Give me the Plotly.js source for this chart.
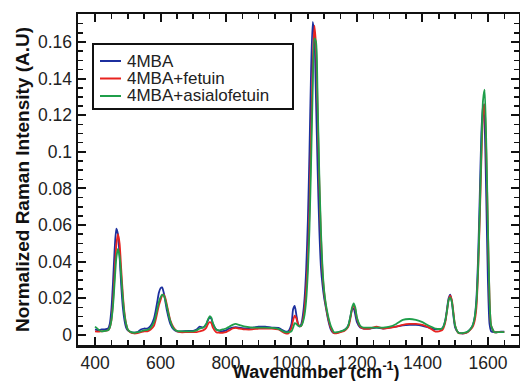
<!DOCTYPE html>
<html>
<head>
<meta charset="utf-8">
<script src="https://cdn.plot.ly/plotly-3.0.1.min.js"></script>
<style>html,body{margin:0;padding:0;background:#fff;}#chart{width:520px;height:381px;}</style>
</head>
<body>
<div id="chart"></div>
<script>
// Wavenumber (cm-1)
const wavenumber = [
  400,410,420,430,440,445,450,455,460,465,
  470,475,480,485,490,495,500,510,520,530,
  540,550,560,570,580,585,590,595,600,605,
  610,615,620,630,640,650,660,680,700,710,
  720,730,740,745,750,755,760,770,780,790,
  800,810,820,830,840,860,880,900,920,940,
  960,980,990,1000,1005,1010,1015,1020,1025,1030,
  1035,1040,1045,1050,1055,1060,1065,1070,1075,1080,
  1085,1090,1095,1100,1105,1110,1115,1120,1125,1130,
  1140,1150,1160,1170,1175,1180,1185,1190,1195,1200,
  1210,1220,1240,1260,1280,1300,1320,1340,1360,1380,
  1400,1420,1440,1460,1465,1470,1475,1480,1485,1490,
  1495,1500,1510,1520,1530,1540,1550,1555,1560,1565,
  1570,1575,1580,1585,1590,1595,1600,1605,1610,1620,
  1630,1640,1650
];
// 4MBA
const mba = [
  0.003,0.0025,0.003,0.003,0.0035,0.006,0.014,0.029,0.047,0.058,
  0.055,0.043,0.027,0.015,0.008,0.004,0.0025,0.0015,0.0012,0.0015,
  0.003,0.0035,0.0035,0.005,0.009,0.013,0.018,0.023,0.0255,0.026,
  0.023,0.018,0.013,0.006,0.003,0.002,0.0018,0.0022,0.0022,0.003,
  0.0045,0.004,0.006,0.008,0.0095,0.009,0.006,0.003,0.0022,0.002,
  0.0025,0.0035,0.004,0.0042,0.004,0.0035,0.004,0.0045,0.0045,0.004,
  0.0038,0.002,0.002,0.006,0.014,0.0158,0.011,0.006,0.0045,0.006,
  0.011,0.02,0.036,0.062,0.1,0.145,0.171,0.163,0.128,0.09,
  0.058,0.037,0.027,0.02,0.015,0.01,0.006,0.003,0.0015,0.001,
  0.0012,0.0018,0.0025,0.004,0.006,0.01,0.0138,0.0145,0.011,0.007,
  0.004,0.0035,0.0035,0.004,0.0035,0.004,0.0045,0.0052,0.0055,0.0055,
  0.005,0.004,0.003,0.0035,0.005,0.008,0.014,0.02,0.022,0.018,
  0.01,0.004,0.0012,0.0008,0.001,0.002,0.004,0.006,0.01,0.02,
  0.042,0.075,0.11,0.126,0.115,0.075,0.03,0.006,0.002,0.0015,
  0.0015,0.0018,0.0018
];
// 4MBA+fetuin
const mbaFetuin = [
  0.002,0.0018,0.002,0.0022,0.0025,0.004,0.008,0.018,0.034,0.049,
  0.055,0.05,0.036,0.022,0.012,0.006,0.003,0.0012,0.0008,0.001,
  0.0015,0.002,0.002,0.003,0.005,0.008,0.012,0.016,0.019,0.0215,
  0.022,0.02,0.016,0.008,0.004,0.002,0.0015,0.0015,0.0015,0.0015,
  0.002,0.0025,0.004,0.006,0.007,0.0065,0.004,0.0015,0.0012,0.0012,
  0.0015,0.0025,0.0035,0.0038,0.0035,0.003,0.003,0.0035,0.0035,0.0035,
  0.003,0.001,0.0008,0.004,0.008,0.0105,0.009,0.006,0.0048,0.005,
  0.008,0.014,0.025,0.04,0.068,0.108,0.148,0.169,0.158,0.122,
  0.083,0.054,0.034,0.023,0.016,0.011,0.007,0.004,0.002,0.001,
  0.001,0.0015,0.002,0.0035,0.005,0.009,0.014,0.0163,0.014,0.009,
  0.0045,0.0035,0.0035,0.0045,0.0035,0.0038,0.0045,0.0055,0.006,0.006,
  0.0055,0.004,0.0018,0.0025,0.004,0.007,0.013,0.019,0.0215,0.019,
  0.012,0.005,0.001,0.0008,0.001,0.0018,0.0035,0.005,0.008,0.015,
  0.034,0.062,0.095,0.12,0.126,0.1,0.058,0.02,0.005,0.0015,
  0.0015,0.0015,0.0015
];
// 4MBA+asialofetuin
const mbaAsialofetuin = [
  0.0045,0.003,0.002,0.0022,0.0025,0.004,0.008,0.016,0.029,0.042,
  0.047,0.043,0.032,0.02,0.011,0.006,0.003,0.0015,0.0012,0.0015,
  0.002,0.0025,0.0028,0.004,0.007,0.01,0.014,0.018,0.0205,0.022,
  0.0215,0.019,0.015,0.0075,0.0035,0.0022,0.002,0.002,0.002,0.0025,
  0.0035,0.004,0.006,0.0085,0.0102,0.0095,0.0065,0.003,0.0025,0.003,
  0.0035,0.0045,0.0055,0.006,0.0055,0.0045,0.004,0.004,0.004,0.0038,
  0.0033,0.0015,0.0015,0.002,0.004,0.0065,0.006,0.005,0.0048,0.005,
  0.007,0.011,0.019,0.034,0.058,0.094,0.135,0.162,0.16,0.128,
  0.088,0.057,0.036,0.024,0.017,0.012,0.008,0.005,0.003,0.0015,
  0.0015,0.002,0.0025,0.004,0.006,0.01,0.015,0.0172,0.015,0.0095,
  0.005,0.004,0.004,0.004,0.004,0.0045,0.006,0.0082,0.0087,0.0082,
  0.007,0.005,0.0035,0.0035,0.005,0.008,0.013,0.019,0.0205,0.018,
  0.011,0.005,0.0012,0.001,0.0012,0.002,0.004,0.006,0.01,0.018,
  0.036,0.066,0.1,0.128,0.134,0.105,0.06,0.02,0.005,0.0015,
  0.0015,0.0015,0.0015
];
const seriesNames = ['4MBA', '4MBA+fetuin', '4MBA+asialofetuin'];
const seriesColors = ['#1c2f9e', '#e8231f', '#1f9e4a'];
const seriesValues = [mba, mbaFetuin, mbaAsialofetuin];

const traces = seriesValues.map((vals, i) => ({
  type: 'scatter', mode: 'lines',
  x: wavenumber, y: vals, name: seriesNames[i], showlegend: false,
  line: {color: seriesColors[i], width: 1.8, shape: 'spline', smoothing: 0.6}
}));

const font = 'Liberation Sans, Arial, sans-serif';
const W = 520, H = 381;
const M = {l: 78, r: 1, t: 14, b: 36};
const PW = W - M.l - M.r, PH = H - M.t - M.b;
const px2x = p => (p - M.l) / PW;
const py2y = p => 1 - (p - M.t) / PH;

// legend drawn as a boxed key in paper coordinates
const legendBox = {x0: 93, x1: 293, y0: 44, y1: 109};
const legendRows = [61, 78.5, 96];
const shapes = [{
  type: 'rect', xref: 'paper', yref: 'paper',
  x0: px2x(legendBox.x0), x1: px2x(legendBox.x1), y0: py2y(legendBox.y1), y1: py2y(legendBox.y0),
  line: {color: '#111', width: 2}, fillcolor: '#fff', layer: 'above'
}];
const annotations = [];
seriesNames.forEach((name, i) => {
  shapes.push({
    type: 'line', xref: 'paper', yref: 'paper',
    x0: px2x(100), x1: px2x(121), y0: py2y(legendRows[i]), y1: py2y(legendRows[i]),
    line: {color: seriesColors[i], width: 2}, layer: 'above'
  });
  annotations.push({
    text: name, xref: 'paper', yref: 'paper', x: px2x(125), y: py2y(legendRows[i]),
    xanchor: 'left', yanchor: 'middle', showarrow: false,
    font: {family: font, size: 17, color: '#222'}
  });
});
annotations.push({
  text: '<b>Wavenumber (cm<sup>-1</sup>)</b>',
  xref: 'paper', yref: 'paper', x: px2x(316), y: 0, xanchor: 'center', yanchor: 'middle',
  yshift: -25, showarrow: false,
  font: {family: font, size: 18, color: '#111'}
});

const axisCommon = {
  showline: true, linecolor: '#111', linewidth: 2.5, mirror: 'ticks',
  ticks: 'inside', ticklen: 8, tickwidth: 2, tickcolor: '#111',
  showgrid: false, zeroline: false,
  tickfont: {family: font, size: 17.5, color: '#222'}
};
const layout = {
  width: W, height: H,
  margin: M,
  paper_bgcolor: '#fff', plot_bgcolor: '#fff',
  showlegend: false,
  xaxis: Object.assign({}, axisCommon, {
    range: [348, 1695], tick0: 0, dtick: 200,
    minor: {dtick: 50, tick0: 0, ticks: 'inside', ticklen: 5, tickwidth: 1.5, tickcolor: '#111'}
  }),
  yaxis: Object.assign({}, axisCommon, {
    range: [-0.0055, 0.1753], tick0: 0, dtick: 0.02,
    minor: {dtick: 0.005, tick0: 0, ticks: 'inside', ticklen: 5, tickwidth: 1.5, tickcolor: '#111'},
    title: {text: 'Normalized Raman Intensity (A.U)', font: {family: font, size: 19, color: '#111', weight: 'bold'}, standoff: 4}
  }),
  shapes: shapes,
  annotations: annotations
};
Plotly.newPlot('chart', traces, layout, {displayModeBar: false, staticPlot: true});
</script>
</body>
</html>
